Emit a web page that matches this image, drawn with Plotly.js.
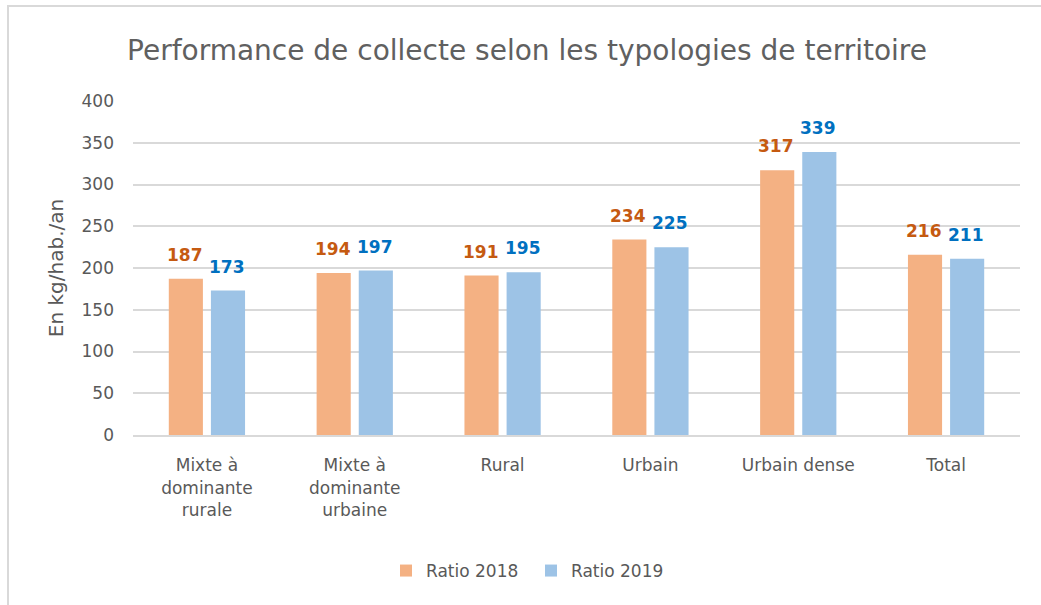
<!DOCTYPE html>
<html>
<head>
<meta charset="utf-8">
<script src="https://cdn.plot.ly/plotly-3.0.1.min.js"></script>
<style>
  html, body { margin: 0; padding: 0; background: #fff; }
  #wrap { position: absolute; left: 0; top: 0; width: 1041px; height: 605px; }
  #frame { position: absolute; left: 7px; top: 5px; width: 1034px; height: 600px;
           border-left: 2px solid #d9d9d9; border-top: 2px solid #d9d9d9; box-sizing: border-box; pointer-events: none; }
  #chart { position: absolute; left: 0; top: 0; width: 1041px; height: 605px; }
</style>
</head>
<body>
<div id="wrap">
  <div id="chart"></div>
  <div id="frame"></div>
</div>
<script>
const categories = ["Mixte à<br>dominante<br>rurale", "Mixte à<br>dominante<br>urbaine", "Rural", "Urbain", "Urbain dense", "Total"];
const ratio2018 = [187, 194, 191, 234, 317, 216];
const ratio2019 = [173, 197, 195, 225, 339, 211];
const seriesNames = ["Ratio 2018", "Ratio 2019"];
const yTicks = [0, 50, 100, 150, 200, 250, 300, 350, 400];

const FONT = "'DejaVu Sans', sans-serif";
const labelColors = ["#C55A11", "#0070C0"];
const barColors = ["#F4B183", "#9DC3E6"];

const traces = [ratio2018, ratio2019].map((vals, i) => ({
  type: "bar", name: seriesNames[i], x: categories, y: vals,
  marker: { color: barColors[i] },
  hoverinfo: "none"
}));

// value labels placed above each bar via the axis scales
const annotations = [];
[ratio2018, ratio2019].forEach((vals, i) => {
  vals.forEach((v, j) => {
    annotations.push({
      x: categories[j], y: v, xref: "x", yref: "y",
      text: String(v), showarrow: false,
      xshift: i === 0 ? -22 : 20, yshift: 24,
      xanchor: "center", yanchor: "middle",
      font: { family: FONT, size: 17, color: labelColors[i], weight: "bold" }
    });
  });
});

const layout = {
  width: 1041, height: 605,
  paper_bgcolor: "rgba(0,0,0,0)", plot_bgcolor: "#fff",
  margin: { l: 133, r: 21, t: 101, b: 170, autoexpand: false },
  font: { family: FONT, color: "#595959", size: 17 },
  title: { text: "Performance de collecte selon les typologies de territoire",
           font: { family: FONT, size: 28, color: "#606060" },
           x: 527 / 1041, xanchor: "center", xref: "container", y: 1 - 50 / 605, yanchor: "middle" },
  barmode: "group", bargap: 0.43, bargroupgap: 0.19,
  showlegend: true,
  legend: { orientation: "h", x: 531 / 1041, xanchor: "center", xref: "container", y: 1 - 571 / 605, yanchor: "middle", yref: "container",
            font: { family: FONT, size: 17, color: "#595959" }, traceorder: "normal",
            entrywidth: 100, itemwidth: 30 },
  annotations: annotations,
  xaxis: { type: "category", tickfont: { family: FONT, size: 17, color: "#595959" },
           showline: true, linecolor: "#d9d9d9", linewidth: 2, ticks: "", ticklen: 0,
           showgrid: false, automargin: false, ticklabelstandoff: 14 },
  yaxis: { range: [0, 400], tickvals: yTicks, ticktext: yTicks.map(String),
           tickfont: { family: FONT, size: 17, color: "#595959" },
           showgrid: true, gridcolor: "#d9d9d9", gridwidth: 2, zeroline: false,
           showline: false, ticks: "", ticklabelstandoff: 18, automargin: false,
           title: { text: "En kg/hab./an", font: { family: FONT, size: 20, color: "#595959" }, standoff: 12 } }
};

Plotly.newPlot("chart", traces, layout, { displayModeBar: false, staticPlot: true });
</script>
</body>
</html>
